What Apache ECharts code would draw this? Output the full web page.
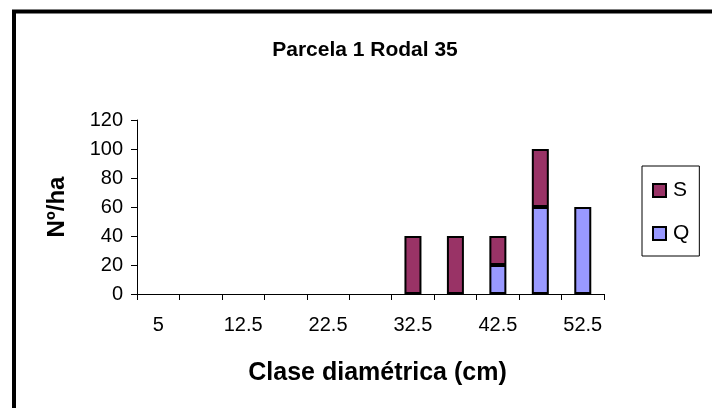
<!DOCTYPE html>
<html>
<head>
<meta charset="utf-8">
<script src="https://cdn.jsdelivr.net/npm/echarts@6/dist/echarts.min.js"></script>
<style>
  html, body { margin: 0; padding: 0; background: #fff; }
  #chart { width: 712px; height: 408px; }
</style>
</head>
<body>
<div id="chart"></div>
<script>
// clases diamétricas (cm)
const categories = ['5', '7.5', '12.5', '17.5', '22.5', '27.5', '32.5', '37.5', '42.5', '47.5', '52.5']
// Nº/ha por especie
const valuesQ = [0, 0, 0, 0, 0, 0, 0, 0, 20, 60, 60]
const valuesS = [0, 0, 0, 0, 0, 0, 40, 40, 20, 40, 0]
const yTicks = { min: 0, max: 120, interval: 20 }

const font = 'Liberation Sans, Arial, sans-serif'

// los ceros no se dibujan (como en Excel)
const toBars = arr => arr.map(v => (v === 0 ? '-' : v))

const chart = echarts.init(document.getElementById('chart'))

const option = {
  animation: false,
  backgroundColor: '#ffffff',
  title: {
    text: 'Parcela 1 Rodal 35',
    left: 360,
    top: 35,
    textAlign: 'center',
    textStyle: { fontFamily: font, fontSize: 21, fontWeight: 'bold', color: '#000' }
  },
  legend: {
    data: ['S', 'Q'],
    orient: 'vertical',
    left: 642,
    top: 166,
    width: 58,
    padding: [14, 10, 12, 10],
    itemGap: 22,
    itemWidth: 13,
    itemHeight: 13,
    icon: 'rect',
    borderColor: '#000',
    borderWidth: 1,
    textStyle: { fontFamily: font, fontSize: 21, color: '#000', padding: [0, 0, 0, 2] }
  },
  grid: { left: 137, right: 108, top: 120, bottom: 114 },
  xAxis: {
    type: 'category',
    data: categories,
    boundaryGap: true,
    name: 'Clase diamétrica (cm)',
    nameLocation: 'middle',
    nameGap: 67,
    nameTextStyle: { fontFamily: font, fontSize: 25, fontWeight: 'bold', color: '#000', padding: [0, 0, 0, 14] },
    axisLine: { lineStyle: { color: '#000', width: 1 } },
    axisTick: { show: true, interval: 0, length: 6, lineStyle: { color: '#000' } },
    axisLabel: { interval: 1, margin: 21, fontFamily: font, fontSize: 20, color: '#000' },
    splitLine: { show: false }
  },
  yAxis: {
    type: 'value',
    min: yTicks.min,
    max: yTicks.max,
    interval: yTicks.interval,
    name: 'Nº/ha',
    nameLocation: 'middle',
    nameGap: 68,
    nameTextStyle: { fontFamily: font, fontSize: 24, fontWeight: 'bold', color: '#000' },
    axisLine: { show: true, lineStyle: { color: '#000', width: 1 } },
    axisTick: { show: true, length: 6, lineStyle: { color: '#000' } },
    axisLabel: { margin: 14, fontFamily: font, fontSize: 20, color: '#000' },
    splitLine: { show: false }
  },
  series: [
    {
      name: 'Q',
      type: 'bar',
      stack: 'total',
      barWidth: 17,
      data: toBars(valuesQ),
      itemStyle: { color: '#9999ff', borderColor: '#000', borderWidth: 2 }
    },
    {
      name: 'S',
      type: 'bar',
      stack: 'total',
      barWidth: 17,
      data: toBars(valuesS),
      itemStyle: { color: '#993366', borderColor: '#000', borderWidth: 2 }
    }
  ],
  graphic: [
    {
      type: 'polyline',
      shape: { points: [[14, 408], [14, 11.5], [712, 11.5]] },
      style: { stroke: '#000', lineWidth: 4, fill: null }
    }
  ]
}

chart.setOption(option)
</script>
</body>
</html>
